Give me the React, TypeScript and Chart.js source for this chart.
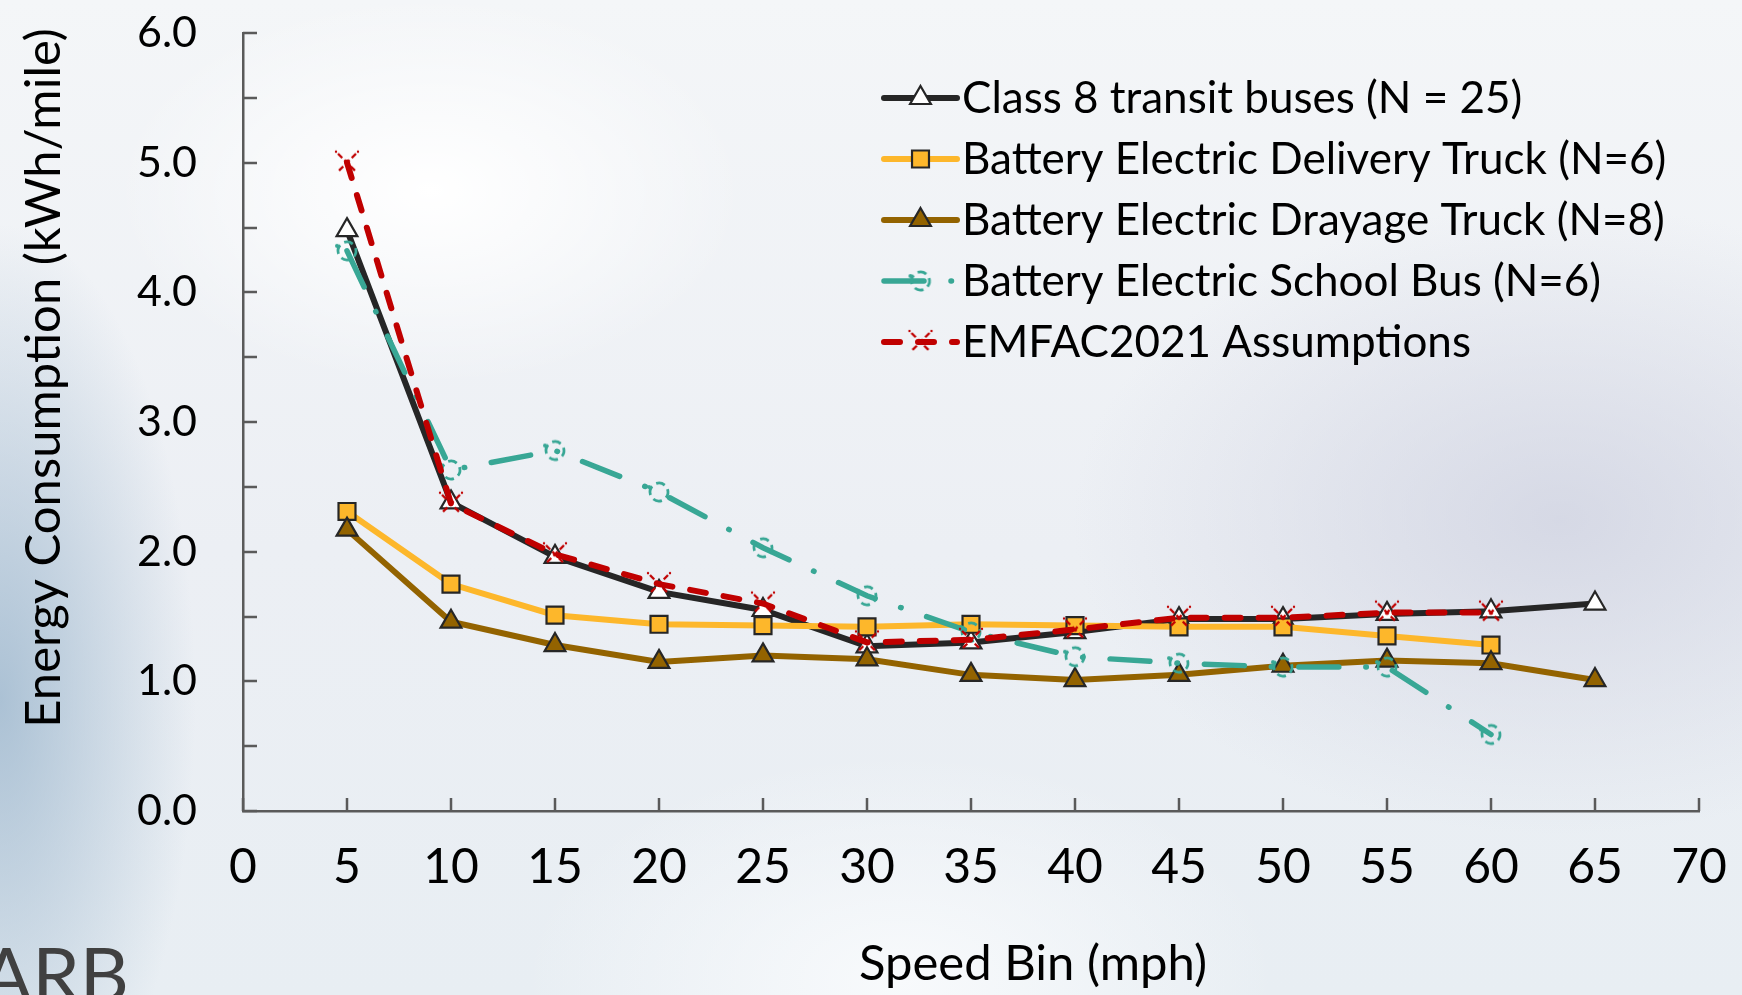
import React, { useEffect, useRef } from 'react';
import { Chart, registerables } from 'chart.js';
import { drawPoint } from 'chart.js/helpers';

Chart.register(...registerables);

// Speed bins (mph) and energy consumption (kWh/mile) per vehicle group
const speedBins = [5, 10, 15, 20, 25, 30, 35, 40, 45, 50, 55, 60, 65];
const class8Buses = [4.48, 2.38, 1.96, 1.69, 1.55, 1.27, 1.30, 1.38, 1.48, 1.48, 1.52, 1.54, 1.60];
const deliveryTruck = [2.31, 1.75, 1.51, 1.44, 1.43, 1.42, 1.44, 1.43, 1.42, 1.42, 1.35, 1.28, null];
const drayageTruck = [2.17, 1.46, 1.28, 1.15, 1.20, 1.17, 1.05, 1.01, 1.05, 1.12, 1.16, 1.14, 1.01];
const schoolBus = [4.32, 2.63, 2.78, 2.46, 2.03, 1.66, 1.38, 1.19, 1.14, 1.11, 1.11, 0.59, null];
const emfac2021 = [5.0, 2.37, 1.98, 1.75, 1.6, 1.3, 1.32, 1.4, 1.49, 1.49, 1.53, 1.53, null];

const seriesLabels = [
  'Class 8 transit buses (N = 25)',
  'Battery Electric Delivery Truck (N=6)',
  'Battery Electric Drayage Truck (N=8)',
  'Battery Electric School Bus (N=6)',
  'EMFAC2021 Assumptions',
];

const yAxisTitle = 'Energy Consumption (kWh/mile)';
const xAxisTitle = 'Speed Bin (mph)';
const cornerMark = 'ARB';

const DARK = '#262626';
const ORANGE = '#fdb72b';
const BROWN = '#936300';
const TEAL = '#38a795';
const RED = '#c00000';
const AXIS = '#5a5a5a';
const FONT = 'Lato, "Open Sans", sans-serif';

function dashedCircle(color: string): HTMLCanvasElement {
  const c = document.createElement('canvas');
  c.width = 28;
  c.height = 28;
  const g = c.getContext('2d')!;
  g.strokeStyle = color;
  g.lineWidth = 2.8;
  g.setLineDash([9, 5]);
  g.beginPath();
  g.arc(14, 14, 9, Math.PI * 0.9, Math.PI * 2.9);
  g.stroke();
  g.fillStyle = color;
  g.beginPath();
  g.arc(4, 9, 2, 0, Math.PI * 2);
  g.fill();
  return c;
}

function brokenCross(color: string): HTMLCanvasElement {
  const c = document.createElement('canvas');
  c.width = 28;
  c.height = 28;
  const g = c.getContext('2d')!;
  g.strokeStyle = color;
  g.lineWidth = 2.4;
  g.setLineDash([6, 3]);
  g.beginPath();
  g.moveTo(5, 5);
  g.lineTo(23, 23);
  g.moveTo(23, 5);
  g.lineTo(5, 23);
  g.stroke();
  g.fillStyle = color;
  [[3, 3], [25, 3]].forEach(([x, y]) => {
    g.beginPath();
    g.arc(x, y, 1.2, 0, Math.PI * 2);
    g.fill();
  });
  return c;
}

const toPoints = (vals: (number | null)[]) =>
  speedBins.map((s, i) => ({ x: s, y: vals[i] })).filter((p) => p.y !== null);

const chartDecor = {
  id: 'chartDecor',
  beforeDatasetsDraw(chart: any) {
    const { ctx, chartArea, scales } = chart;
    ctx.save();
    ctx.strokeStyle = AXIS;
    ctx.lineWidth = 2.5;
    ctx.beginPath();
    for (let v = 0; v <= 6.0001; v += 0.5) {
      const py = Math.round(scales.y.getPixelForValue(v));
      ctx.moveTo(chartArea.left, py);
      ctx.lineTo(chartArea.left + 14, py);
    }
    for (let v = 0; v <= 70; v += 5) {
      const px = Math.round(scales.x.getPixelForValue(v));
      ctx.moveTo(px, chartArea.bottom);
      ctx.lineTo(px, chartArea.bottom - 13);
    }
    ctx.stroke();
    ctx.restore();
  },
  afterDraw(chart: any) {
    const { ctx, chartArea } = chart;
    ctx.save();

    // Legend: line sample with marker, then the series name
    const lx0 = chartArea.left + 641;
    const lx1 = chartArea.left + 714;
    const mx = (lx0 + lx1) / 2;
    chart.data.datasets.forEach((ds: any, i: number) => {
      const y = chartArea.top + 65 + i * 61;
      ctx.save();
      ctx.strokeStyle = ds.borderColor;
      ctx.lineWidth = ds.borderWidth;
      ctx.lineCap = 'round';
      ctx.setLineDash(ds.borderDash || []);
      ctx.beginPath();
      ctx.moveTo(lx0, y);
      ctx.lineTo(lx1, y);
      ctx.stroke();
      ctx.setLineDash([]);
      ctx.fillStyle = ds.pointBackgroundColor;
      ctx.strokeStyle = ds.pointBorderColor;
      ctx.lineWidth = ds.pointBorderWidth;
      drawPoint(
        ctx,
        { pointStyle: ds.pointStyle, radius: ds.pointRadius, borderWidth: ds.pointBorderWidth, rotation: 0 },
        mx,
        y
      );
      ctx.restore();
      ctx.fillStyle = '#000';
      ctx.font = `44px ${FONT}`;
      ctx.textAlign = 'left';
      ctx.textBaseline = 'middle';
      ctx.fillText(ds.label, lx1 + 5, y + 1);
    });

    // Axis titles
    ctx.fillStyle = '#000';
    ctx.font = `49px ${FONT}`;
    ctx.textAlign = 'center';
    ctx.textBaseline = 'middle';
    ctx.fillText(xAxisTitle, 1033, 964);
    ctx.save();
    ctx.translate(44, 378);
    ctx.rotate(-Math.PI / 2);
    ctx.fillText(yAxisTitle, 0, 0);
    ctx.restore();

    // Corner mark
    ctx.fillStyle = '#404040';
    ctx.font = `76px ${FONT}`;
    ctx.textAlign = 'right';
    ctx.textBaseline = 'alphabetic';
    ctx.fillText(cornerMark, 129, 1002);

    ctx.restore();
  },
};

export default function App() {
  const canvasRef = useRef<HTMLCanvasElement | null>(null);

  useEffect(() => {
    document.body.style.margin = '0';
    const canvas = canvasRef.current;
    if (!canvas) return;

    const chart = new Chart(canvas, {
      type: 'line',
      data: {
        datasets: [
          {
            label: seriesLabels[0],
            data: toPoints(class8Buses),
            borderColor: DARK,
            borderWidth: 6,
            pointStyle: 'triangle',
            pointRadius: 12,
            pointBackgroundColor: '#ffffff',
            pointBorderColor: DARK,
            pointBorderWidth: 2.2,
            order: 5,
          },
          {
            label: seriesLabels[1],
            data: toPoints(deliveryTruck),
            borderColor: ORANGE,
            borderWidth: 6,
            pointStyle: 'rect',
            pointRadius: 12,
            pointBackgroundColor: ORANGE,
            pointBorderColor: DARK,
            pointBorderWidth: 2.2,
            order: 4,
          },
          {
            label: seriesLabels[2],
            data: toPoints(drayageTruck),
            borderColor: BROWN,
            borderWidth: 6,
            pointStyle: 'triangle',
            pointRadius: 12,
            pointBackgroundColor: BROWN,
            pointBorderColor: DARK,
            pointBorderWidth: 2.2,
            order: 3,
          },
          {
            label: seriesLabels[3],
            data: toPoints(schoolBus),
            borderColor: TEAL,
            borderWidth: 5.5,
            borderDash: [40, 27, 0.5, 27],
            borderCapStyle: 'round',
            pointStyle: dashedCircle(TEAL),
            pointRadius: 10,
            pointBackgroundColor: 'rgba(0,0,0,0)',
            pointBorderColor: TEAL,
            pointBorderWidth: 0,
            order: 2,
          },
          {
            label: seriesLabels[4],
            data: toPoints(emfac2021),
            borderColor: RED,
            borderWidth: 6,
            borderDash: [16, 18],
            borderCapStyle: 'round',
            pointStyle: brokenCross(RED),
            pointRadius: 10,
            pointBackgroundColor: 'rgba(0,0,0,0)',
            pointBorderColor: RED,
            pointBorderWidth: 0,
            order: 1,
          },
        ] as any,
      },
      options: {
        animation: false,
        responsive: false,
        devicePixelRatio: 1,
        layout: { padding: { left: 0, top: 33, right: 43, bottom: 0 } },
        plugins: { legend: { display: false }, tooltip: { enabled: false } },
        scales: {
          x: {
            type: 'linear',
            min: 0,
            max: 70,
            afterFit: (s: any) => {
              s.height = 184;
            },
            ticks: {
              stepSize: 5,
              autoSkip: false,
              maxRotation: 0,
              padding: 0,
              color: '#000',
              font: { family: FONT, size: 48 },
            },
            // hidden grid; tickLength only offsets the labels from the axis
            grid: { display: false, drawTicks: true, tickLength: 28 },
            border: { display: true, color: AXIS, width: 2.5 },
          },
          y: {
            min: 0,
            max: 6,
            afterFit: (s: any) => {
              s.width = 243;
            },
            ticks: {
              stepSize: 0.5,
              autoSkip: false,
              padding: 0,
              color: '#000',
              font: { family: FONT, size: 43 },
              callback: (v: any) => (Math.abs(v % 1) < 1e-9 ? Number(v).toFixed(1) : ''),
            },
            grid: { display: false, drawTicks: true, tickLength: 46 },
            border: { display: true, color: AXIS, width: 2.5 },
          },
        },
      } as any,
      plugins: [chartDecor],
    });

    return () => chart.destroy();
  }, []);

  return (
    <div
      style={{
        position: 'fixed',
        left: 0,
        top: 0,
        width: 1742,
        height: 995,
        overflow: 'hidden',
        background: [
          'radial-gradient(ellipse 420px 260px at 430px 190px, rgba(255,255,255,1), rgba(255,255,255,0) 75%)',
          'radial-gradient(ellipse 650px 420px at 1560px 520px, rgba(206,209,224,0.75), rgba(206,209,224,0) 75%)',
          'radial-gradient(ellipse 230px 560px at 0px 700px, rgba(150,178,202,0.75), rgba(150,178,202,0) 85%)',
          'radial-gradient(ellipse 500px 300px at 900px 980px, rgba(248,250,252,1), rgba(248,250,252,0) 75%)',
          'linear-gradient(180deg, #f4f6f8 0%, #eceff4 55%, #e8eef3 100%)',
        ].join(', '),
      }}
    >
      <canvas ref={canvasRef} width={1742} height={995} style={{ display: 'block', width: 1742, height: 995 }} />
    </div>
  );
}
